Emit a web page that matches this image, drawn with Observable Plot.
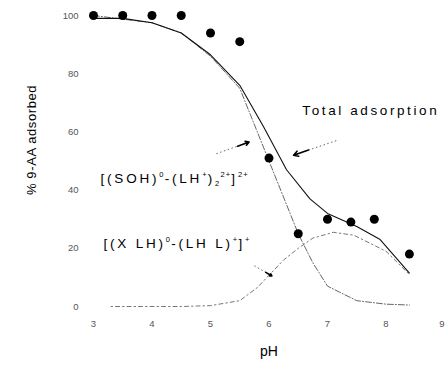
<!DOCTYPE html>
<html>
<head>
<meta charset="utf-8">
<script src="https://cdn.jsdelivr.net/npm/d3@7"></script>
<script src="https://cdn.jsdelivr.net/npm/@observablehq/plot@0.6"></script>
<style>
  html, body { margin: 0; padding: 0; background: #fff; }
  #chart { width: 445px; height: 365px; overflow: hidden; }
</style>
</head>
<body>
<div id="chart"></div>
<script>
// Measured points
const obsPH  = [3, 3.5, 4, 4.5, 5, 5.5, 6, 6.5, 7, 7.4, 7.8, 8.4];
const obsPct = [100, 100, 100, 100, 94, 91, 51, 25, 30, 29, 30, 18];

// Total adsorption (model)
const totalPH  = [3, 3.5, 4, 4.5, 5, 5.5, 5.9, 6.3, 6.7, 7, 7.5, 7.9, 8.4];
const totalPct = [99, 99, 97.5, 94, 86.5, 76, 62, 47, 37, 32, 27.5, 23, 11.5];

// [(SOH)0-(LH+)2 2+]2+ species
const s1PH  = [3, 4, 4.5, 5, 5.5, 5.8, 6, 6.2, 6.5, 6.75, 7, 7.5, 8, 8.4];
const s1Pct = [100, 97.5, 94, 86, 75, 60, 50, 40, 25, 15, 7, 2, 0.8, 0.5];

// [(X LH)0-(LH L)+]+ species
const s2PH  = [3.3, 4, 4.5, 5, 5.5, 5.8, 6.25, 6.5, 6.75, 7.1, 7.45, 8, 8.4];
const s2Pct = [0, 0, 0, 0.3, 2, 6.5, 16, 20, 23.5, 25.5, 24.5, 19, 11];

// Ticks
const xTicks = [3, 4, 5, 6, 7, 8, 9];
const yTicks = [0, 20, 40, 60, 80, 100];

// Axis titles
const xTitle = "pH";
const yTitle = "% 9-AA adsorbed";

// Annotation labels
const labelTexts = ["Total adsorption", "[(SOH)⁰-(LH⁺)₂²⁺]²⁺", "[(X LH)⁰-(LH L)⁺]⁺"];
const labelPH    = [6.57, 3.12, 3.17];
const labelPct   = [67.4, 44, 21.6];

// Leader arrows (from -> to)
const arrowFromPH  = [7.15, 5.1, 5.75];
const arrowFromPct = [57, 52.5, 14];
const arrowToPH    = [6.42, 5.66, 6.05];
const arrowToPct   = [52, 56.5, 10.5];

const obs = obsPH.map((x, i) => ({x, y: obsPct[i]}));
const total = totalPH.map((x, i) => ({x, y: totalPct[i]}));
const s1 = s1PH.map((x, i) => ({x, y: s1Pct[i]}));
const s2 = s2PH.map((x, i) => ({x, y: s2Pct[i]}));
const labels = labelTexts.map((t, i) => ({t, x: labelPH[i], y: labelPct[i]}));
const arrows = arrowFromPH.map((x1, i) => ({
  x1, y1: arrowFromPct[i], x2: arrowToPH[i], y2: arrowToPct[i],
  hx1: x1 + (arrowToPH[i] - x1) * 0.65, hy1: arrowFromPct[i] + (arrowToPct[i] - arrowFromPct[i]) * 0.65
}));

const font = "'Liberation Sans', Arial, Helvetica, sans-serif";

const chart = Plot.plot({
  width: 445,
  height: 365,
  marginLeft: 93,
  marginRight: 1,
  marginTop: 15,
  marginBottom: 59,
  style: {fontFamily: font, fontSize: "9px", background: "#fff", color: "#000", overflow: "visible"},
  x: {domain: [3, 9]},
  y: {domain: [0, 100]},
  marks: [
    Plot.axisX({ticks: xTicks, tickFormat: d => String(d), tickSize: 0, tickPadding: 14, label: null, fill: "#555", fontSize: 9.5}),
    Plot.axisY({ticks: yTicks, tickFormat: d => String(d), tickSize: 0, tickPadding: 15, label: null, fill: "#555", fontSize: 9.5}),
    Plot.line(s1, {x: "x", y: "y", stroke: "#555", strokeWidth: 0.9, strokeDasharray: "6,2,1,2"}),
    Plot.line(s2, {x: "x", y: "y", stroke: "#666", strokeWidth: 0.9, strokeDasharray: "1.5,3,4,3"}),
    Plot.line(total, {x: "x", y: "y", stroke: "#111", strokeWidth: 1.1}),
    Plot.dot(obs, {x: "x", y: "y", r: 4.5, fill: "#000", stroke: "none"}),
    Plot.link(arrows, {x1: "x1", y1: "y1", x2: "x2", y2: "y2", stroke: "#555", strokeWidth: 0.9, strokeDasharray: "1.5,2.5"}),
    Plot.arrow(arrows, {x1: "hx1", y1: "hy1", x2: "x2", y2: "y2", stroke: "#000", strokeWidth: 1.6, headLength: 6}),
    Plot.text(labels, {x: "x", y: "y", text: "t", textAnchor: "start", fontSize: 13, fill: "#000", className: "annot"}),
    Plot.text([xTitle], {frameAnchor: "bottom", dy: 49, fontSize: 14, fill: "#000"})
  ]
});

const svg = d3.select(chart);
// Y axis title (rotated), starting at the bottom and reading upward
svg.append("text")
  .attr("transform", "translate(31,195) rotate(-90)")
  .attr("text-anchor", "start")
  .attr("dy", "0.35em")
  .attr("font-size", 13)
  .attr("font-family", font)
  .attr("fill", "#000")
  .style("letter-spacing", "0.6px")
  .text(yTitle);

// keep the last x tick label inside the picture
svg.selectAll('g[aria-label="x-axis tick label"] text')
  .filter(function() { return this.textContent === "9"; })
  .attr("text-anchor", "end").attr("dx", 0);

// Convert unicode super/subscripts to small tspans
const sup = {"⁰":"0","⁺":"+","²":"2"};
const sub = {"₂":"2"};
const smallFs = 7.5;
svg.selectAll("g.annot text").each(function() {
  const el = d3.select(this);
  const s = this.textContent;
  if (/Total/.test(s)) { el.style("letter-spacing", "2.6px").attr("font-size", 13.5); return; }
  el.style("letter-spacing", "2.8px").attr("font-size", 13.5);
  el.text("");
  let i = 0, shift = 0;
  const kindOf = ch => sup[ch] !== undefined ? "sup" : sub[ch] !== undefined ? "sub" : "n";
  while (i < s.length) {
    const kind = kindOf(s[i]);
    let buf = "";
    while (i < s.length && kindOf(s[i]) === kind) {
      buf += kind === "sup" ? sup[s[i]] : kind === "sub" ? sub[s[i]] : s[i];
      i++;
    }
    const target = kind === "sup" ? -5.5 : kind === "sub" ? 3.5 : 0;
    const t = el.append("tspan").text(buf).attr("dy", (target - shift) + "px");
    if (kind !== "n") t.attr("font-size", smallFs).style("letter-spacing", "1.2px");
    shift = target;
  }
});

document.getElementById("chart").appendChild(chart);
</script>
</body>
</html>
